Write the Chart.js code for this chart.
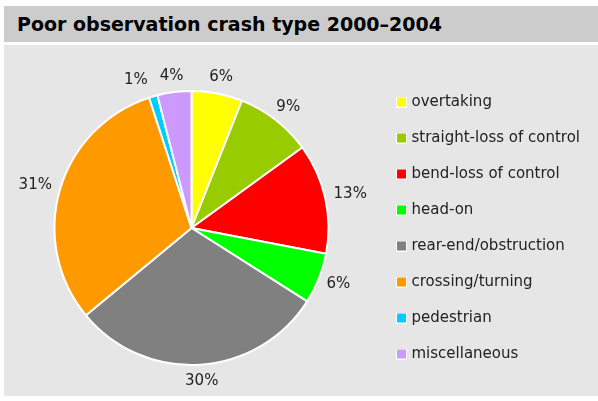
<!DOCTYPE html>
<html>
<head>
<meta charset="utf-8">
<title>Poor observation crash type 2000–2004</title>
<script src="https://cdn.jsdelivr.net/npm/chart.js@4.4.1/dist/chart.umd.min.js"></script>
<style>
    html, body { margin: 0; padding: 0; background: #ffffff; }
    #titleBar {
        position: absolute; left: 4px; top: 6px; width: 594px; height: 36px;
        box-sizing: border-box; padding-left: 13px;
        background: #cccccc; color: #000000;
        font: bold 19px 'DejaVu Sans', Verdana, sans-serif; line-height: 36px;
    }
    #panel { position: absolute; left: 4px; top: 45px; width: 594px; height: 351px; background: #e6e6e6; }
    #chartBox { position: absolute; left: 0; top: 45px; width: 598px; height: 351px; }
</style>
</head>
<body>
<div id="titleBar">Poor observation crash type 2000–2004</div>
<div id="panel"></div>
<div id="chartBox"><canvas id="crashTypeChart" width="598" height="351"></canvas></div>
<script>
// Crash types, shares (%) and slice colours, in clockwise order from 12 o'clock
const crashTypes = [
    'overtaking',
    'straight-loss of control',
    'bend-loss of control',
    'head-on',
    'rear-end/obstruction',
    'crossing/turning',
    'pedestrian',
    'miscellaneous'
];
const crashShares = [6, 9, 13, 6, 30, 31, 1, 4];
const sliceColours = ['#ffff00', '#99cc00', '#ff0000', '#00ff00', '#808080', '#ff9900', '#00ccff', '#cc99ff'];

const labelFont = "15px 'DejaVu Sans', Verdana, sans-serif";
const textColour = '#222222';

// small square legend swatch with a thin white frame
function makeSwatch(colour) {
    const c = document.createElement('canvas');
    c.width = 11;
    c.height = 11;
    const g = c.getContext('2d');
    g.fillStyle = '#ffffff';
    g.fillRect(0, 0, 11, 11);
    g.fillStyle = colour;
    g.fillRect(1, 1, 9, 9);
    return c;
}
const swatches = sliceColours.map(makeSwatch);

// percentage labels just outside each slice, nudged apart if they collide
const outsideLabels = {
    id: 'outsideLabels',
    afterDatasetsDraw(chart) {
        const ctx = chart.ctx;
        const meta = chart.getDatasetMeta(0);
        ctx.save();
        ctx.font = labelFont;
        ctx.fillStyle = textColour;
        ctx.textAlign = 'center';
        ctx.textBaseline = 'middle';

        const boxes = meta.data.map((arc, i) => {
            const p = arc.getProps(['x', 'y', 'startAngle', 'endAngle', 'outerRadius'], true);
            const mid = (p.startAngle + p.endAngle) / 2;
            const dx = Math.cos(mid), dy = Math.sin(mid);
            const text = crashShares[i] + '%';
            const w = ctx.measureText(text).width;
            const h = 15;
            const r = p.outerRadius + 9;
            return { text, w, h, dx, cx: p.x + dx * (r + w / 2), cy: p.y + dy * (r + h / 2) };
        });

        // push earlier labels away along x when a later one overlaps them
        for (let i = 1; i < boxes.length; i++) {
            for (let j = 0; j < i; j++) {
                const a = boxes[j], b = boxes[i];
                const overlapX = (a.w + b.w) / 2 + 12 - Math.abs(a.cx - b.cx);
                const overlapY = (a.h + b.h) / 2 - Math.abs(a.cy - b.cy);
                if (overlapX > 0 && overlapY > 0) {
                    a.cx += (a.cx < b.cx ? -1 : 1) * overlapX;
                }
            }
        }

        boxes.forEach(b => ctx.fillText(b.text, b.cx, b.cy));
        ctx.restore();
    }
};

new Chart(document.getElementById('crashTypeChart').getContext('2d'), {
    type: 'pie',
    data: {
        labels: crashTypes,
        datasets: [{
            data: crashShares,
            backgroundColor: sliceColours,
            borderColor: '#ffffff',
            borderWidth: 2,
            radius: 137
        }]
    },
    options: {
        responsive: false,
        animation: false,
        layout: { padding: { left: 5, right: 8, top: 15, bottom: 0 } },
        plugins: {
            tooltip: { enabled: false },
            legend: {
                position: 'right',
                labels: {
                    font: { family: "'DejaVu Sans', Verdana, sans-serif", size: 15 },
                    color: textColour,
                    usePointStyle: true,
                    boxWidth: 5,
                    boxHeight: 5,
                    padding: 21,
                    generateLabels: (chart) => crashTypes.map((name, i) => ({
                        text: name,
                        fillStyle: sliceColours[i],
                        strokeStyle: '#ffffff',
                        lineWidth: 0,
                        pointStyle: swatches[i],
                        fontColor: textColour,
                        hidden: false,
                        index: i
                    }))
                }
            }
        }
    },
    plugins: [outsideLabels]
});
</script>
</body>
</html>
